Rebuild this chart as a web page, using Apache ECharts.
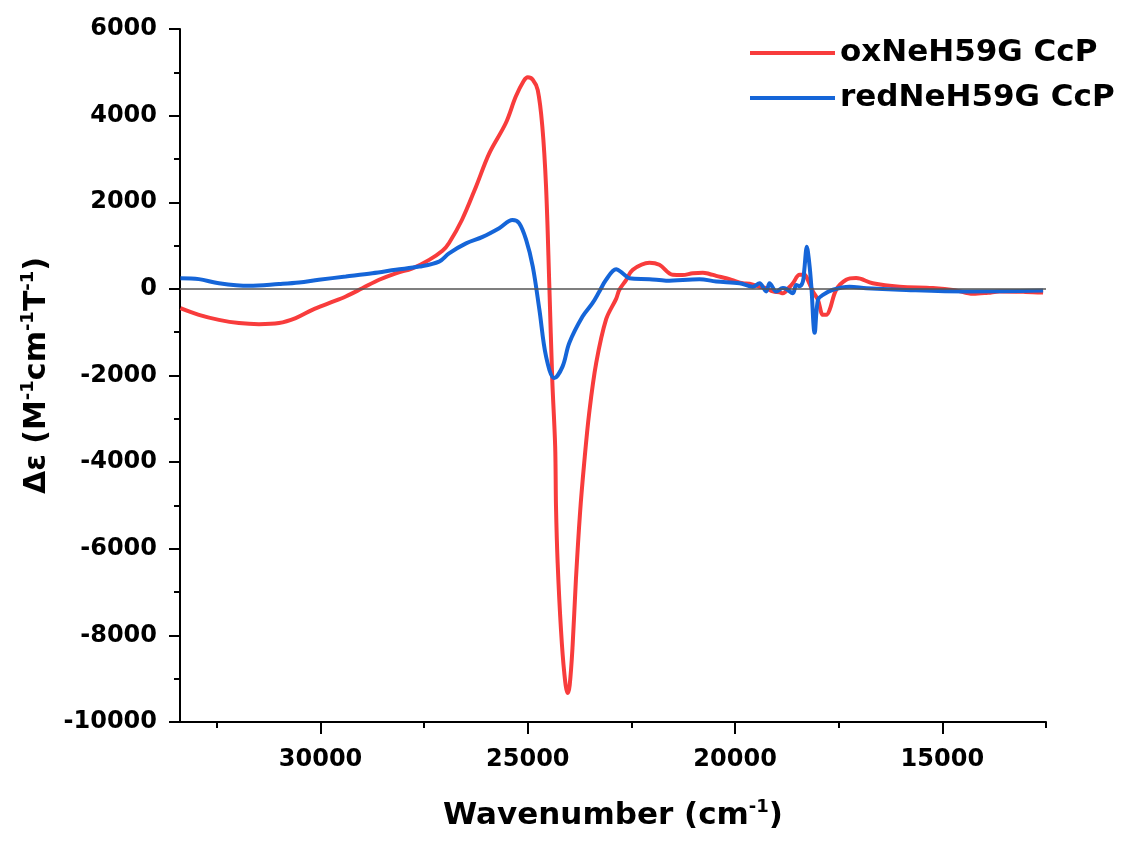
<!DOCTYPE html>
<html>
<head>
<meta charset="utf-8">
<script src="https://cdn.jsdelivr.net/npm/echarts@6/dist/echarts.min.js"></script>
<style>
  html, body { margin: 0; padding: 0; background: #fff; }
  #chart { width: 1121px; height: 841px; }
</style>
</head>
<body>
<div id="chart"></div>
<script>
// wavenumber (cm-1) and delta epsilon
var oxWave = [33380, 32934, 32451, 31968, 31485, 31002, 30599, 30198, 29795, 29391,
  28991, 28587, 28184, 27783, 27380, 27059, 26900, 26590, 26250, 25930,
  25530, 25290, 25100, 25000, 24880, 24760, 24650, 24560, 24480, 24410,
  24340, 24320, 24280, 24200, 24120, 24040, 23990, 23920, 23840, 23740,
  23640, 23520, 23350, 23110, 22870, 22791, 22630, 22470, 22067,
  21826, 21504, 21270, 21021, 20780, 20618, 20456, 20214, 20060, 19813,
  19650, 19410, 19250, 19089, 18930, 18847, 18680, 18606, 18444, 18323,
  18280, 18123, 18002, 17880, 17800, 17720, 17560, 17320, 17080, 16680,
  16030, 15230, 14700, 14260, 13900, 13620, 13000, 12570];
var oxDelta = [-445, -600, -715, -790, -815, -790, -675, -485, -330, -175,
  15, 210, 360, 475, 670, 880, 1060, 1590, 2360, 3130,
  3830, 4440, 4800, 4885, 4830, 4590, 3750, 2360, 50, -2100,
  -3640, -5020, -6330, -7870, -8870, -9330, -9150, -8250, -6720, -5170,
  -4020, -2870, -1710, -700, -230, -20, 200, 440, 605,
  555, 325, 320, 360, 375, 345, 300, 245, 200, 130,
  120, 50, 20, -60, -80, -100, 50, 130, 325, 325,
  280, -60, -250, -600, -600, -485, -20, 210, 250, 130,
  50, 20, -30, -115, -90, -60, -70, -85];

var redWave = [33380, 32934, 32451, 31726, 31002, 30520, 30040, 29391, 28750, 28184,
  27620, 27140, 26900, 26490, 26090, 25690, 25370, 25210, 25040, 24880,
  24720, 24560, 24360, 24160, 24000, 23680, 23440, 23274, 23112, 22871,
  22710, 22550, 22067, 21664, 20860, 20456, 19893, 19572, 19410, 19249,
  19169, 19007, 18847, 18765, 18606, 18524, 18444, 18364, 18330, 18268,
  18244, 18200, 18160, 18080, 18000, 17880, 17640, 17240, 16830, 16030,
  14420, 12570];
var redDelta = [245, 225, 130, 70, 110, 145, 210, 285, 360, 440,
  515, 630, 820, 1050, 1200, 1400, 1590, 1520, 1130, 515,
  -485, -1560, -2060, -1790, -1250, -640, -330, -60, 210, 455,
  360, 245, 225, 190, 225, 170, 130, 50, 130, -60,
  130, -60, 20, 0, -100, 90, 60, 170, 440, 975,
  860, 500, 50, -1015, -250, -140, -20, 50, 15, -20,
  -60, -40];

var xMajorTicks = [30000, 25000, 20000, 15000];
var xMinorTicks = [32500, 27500, 22500, 17500, 12500];
var seriesNames = ['oxNeH59G CcP', 'redNeH59G CcP'];
var seriesColors = ['#f83c3c', '#1565d8'];

function zip(a, b) {
  return a.map(function (v, i) { return [v, b[i]]; });
}
function plain(v) { return String(v); }

var font = 'DejaVu Sans';
var myChart = echarts.init(document.getElementById('chart'));

var option = {
  backgroundColor: '#ffffff',
  animation: false,
  grid: { left: 180, right: 75, top: 29, bottom: 119 },
  legend: {
    data: seriesNames.map(function (n) { return { name: n, icon: 'rect' }; }),
    orient: 'vertical',
    left: 745,
    top: 30,
    itemWidth: 85,
    itemHeight: 4,
    itemGap: 9,
    textStyle: { fontFamily: font, fontWeight: 'bold', fontSize: 31, color: '#000', lineHeight: 36 }
  },
  xAxis: [
    {
      type: 'value',
      inverse: true,
      min: 12500,
      max: 33390,
      name: '{b|Wavenumber (cm}{s|-1}{b|)}',
      nameLocation: 'middle',
      nameGap: 76,
      nameTextStyle: {
        rich: {
          b: { fontFamily: font, fontWeight: 'bold', fontSize: 31, color: '#000', lineHeight: 36 },
          s: { fontFamily: font, fontWeight: 'bold', fontSize: 18, color: '#000', verticalAlign: 'top', lineHeight: 18 }
        }
      },
      axisLine: { show: true, onZero: false, lineStyle: { color: '#000', width: 2 } },
      axisTick: { show: true, length: 12, customValues: xMajorTicks, lineStyle: { color: '#000', width: 2 } },
      axisLabel: {
        customValues: xMajorTicks,
        formatter: plain,
        margin: 26,
        fontFamily: font, fontWeight: 'bold', fontSize: 24, color: '#000'
      },
      splitLine: { show: false }
    },
    {
      type: 'value',
      inverse: true,
      min: 12500,
      max: 33390,
      position: 'bottom',
      axisLine: { show: false, onZero: false },
      axisTick: { show: true, length: 6, customValues: xMinorTicks, lineStyle: { color: '#000', width: 2 } },
      axisLabel: { show: false },
      splitLine: { show: false }
    }
  ],
  yAxis: {
    type: 'value',
    min: -10000,
    max: 6000,
    interval: 2000,
    name: '{b|Δε (M}{s|-1}{b|cm}{s|-1}{b|T}{s|-1}{b|)}',
    nameLocation: 'middle',
    nameRotate: 90,
    nameGap: 124,
    nameTextStyle: {
      rich: {
        b: { fontFamily: font, fontWeight: 'bold', fontSize: 30, color: '#000', lineHeight: 36 },
        s: { fontFamily: font, fontWeight: 'bold', fontSize: 18, color: '#000', verticalAlign: 'top', lineHeight: 18 }
      }
    },
    axisLine: { show: true, lineStyle: { color: '#000', width: 2 } },
    axisTick: { show: true, length: 11, lineStyle: { color: '#000', width: 2 } },
    minorTick: { show: true, splitNumber: 2, length: 6, lineStyle: { color: '#000', width: 2 } },
    axisLabel: { formatter: plain, margin: 23, fontFamily: font, fontWeight: 'bold', fontSize: 24, color: '#000' },
    splitLine: { show: false },
    minorSplitLine: { show: false }
  },
  series: [
    {
      name: seriesNames[0],
      type: 'line',
      xAxisIndex: 0,
      data: zip(oxWave, oxDelta),
      symbol: 'none',
      smooth: 0.35,
      lineStyle: { color: seriesColors[0], width: 4 },
      itemStyle: { color: seriesColors[0] },
      markLine: {
        silent: true,
        symbol: 'none',
        label: { show: false },
        lineStyle: { color: '#555', width: 1.5, type: 'solid' },
        data: [{ yAxis: 0 }]
      }
    },
    {
      name: seriesNames[1],
      type: 'line',
      xAxisIndex: 0,
      data: zip(redWave, redDelta),
      symbol: 'none',
      smooth: 0.35,
      lineStyle: { color: seriesColors[1], width: 4 },
      itemStyle: { color: seriesColors[1] }
    }
  ]
};
myChart.setOption(option);
</script>
</body>
</html>
